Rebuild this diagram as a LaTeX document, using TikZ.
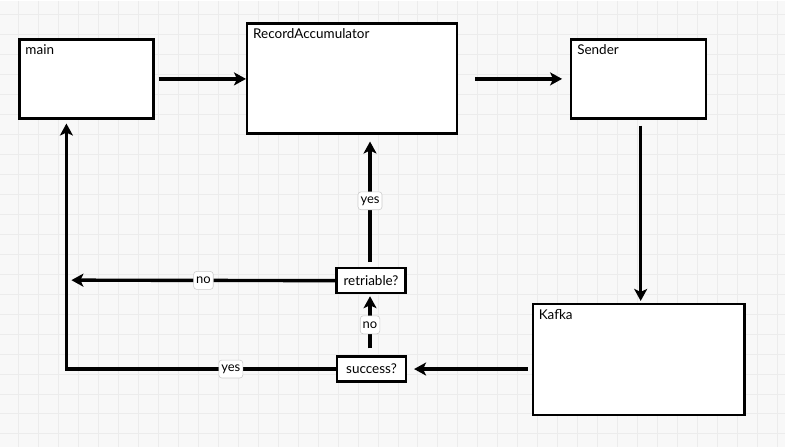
\documentclass[tikz,border=0pt]{standalone}
\usepackage{fontspec}
\setmainfont{Lato}
\usetikzlibrary{arrows.meta,calc,positioning}
\definecolor{paper}{rgb}{0.973, 0.973, 0.973}
\definecolor{gridline}{rgb}{0.925, 0.925, 0.925}
\definecolor{tagborder}{rgb}{0.80, 0.80, 0.80}
\tikzset{
  caja/.style={
    draw=black,
    fill=white,
    line width=2.4pt
  },
  titulo/.style={
    anchor=north west,
    inner sep=0pt,
    font=\fontsize{13.5}{15}\selectfont
  },
  pregunta/.style={
    draw=black,
    fill=white,
    line width=2.2pt,
    minimum width=69pt,
    minimum height=25pt,
    inner sep=0pt,
    font=\fontsize{13.5}{15}\selectfont
  },
  etiqueta/.style={
    rounded corners=3pt,
    draw=tagborder,
    fill=white,
    line width=0.6pt,
    inner xsep=2.5pt,
    inner ysep=1pt,
    minimum height=18pt,
    font=\fontsize{13}{15}\selectfont
  },
  arrow/.style={
    -{Stealth[length=12pt, width=13pt, inset=3pt]},
    line width=3.4pt,
    black
  }
}

\begin{document}
\begin{tikzpicture}[x=1pt, y=-1pt]
\fill[paper] (0,0) rectangle (785,447);
\foreach \gx in {18,38,...,778} \draw[gridline, line width=1pt] (\gx,0) -- (\gx,447);
\foreach \gy in {14,34,...,434} \draw[gridline, line width=1pt] (0,\gy) -- (785,\gy);
\useasboundingbox (0,0) rectangle (785,447);
% bloques
\node[caja, minimum width=134pt, minimum height=79pt] (main) at (86,78.5) {};
\node[caja, minimum width=210pt, minimum height=110pt] (acc) at (352,78) {};
\node[caja, minimum width=135pt, minimum height=79pt] (sender) at (639,78.5) {};
\node[caja, minimum width=212pt, minimum height=111pt] (kafka) at (639,359.5) {};
\node[titulo] at ($(main.north west)+(7,6)$) {main};
\node[titulo] at ($(acc.north west)+(7,6)$) {RecordAccumulator};
\node[titulo] at ($(sender.north west)+(7,6)$) {Sender};
\node[titulo] at ($(kafka.north west)+(7,6)$) {Kafka};
% decisiones
\node[pregunta] (retry) at (371,280.5) {retriable?};
\node[pregunta] (ok) at (371.5,369) {success?};
\coordinate (retryend) at (71,280);
\coordinate (okcorner) at (66,369);
% flechas
\draw[arrow, shorten <=4pt] (main.east) -- (main.east -| acc.west);
\draw[arrow, shorten <=17pt, shorten >=8pt] (acc.east |- sender.west) -- (sender.west);
\draw[arrow, shorten <=6pt, shorten >=2pt] (sender.south -| 641,0) -- (kafka.north -| 641,0);
\draw[arrow, shorten <=4pt, shorten >=7pt] (kafka.west |- ok.east) -- (ok.east);
\draw[arrow, shorten <=7pt, shorten >=2pt] (ok.north -| 370,0) -- node[etiqueta] {no} (retry.south -| 370,0);
\draw[arrow, shorten <=5pt, shorten >=7pt] (retry.north -| 370,0) -- node[etiqueta] {yes} (acc.south -| 370,0);
\draw[arrow] (retry.west) -- node[etiqueta] {no} (retryend);
\draw[arrow, shorten >=4pt] (ok.west) -- node[etiqueta, pos=0.39] {yes} (okcorner) -- (okcorner |- main.south);
\end{tikzpicture}
\end{document}
